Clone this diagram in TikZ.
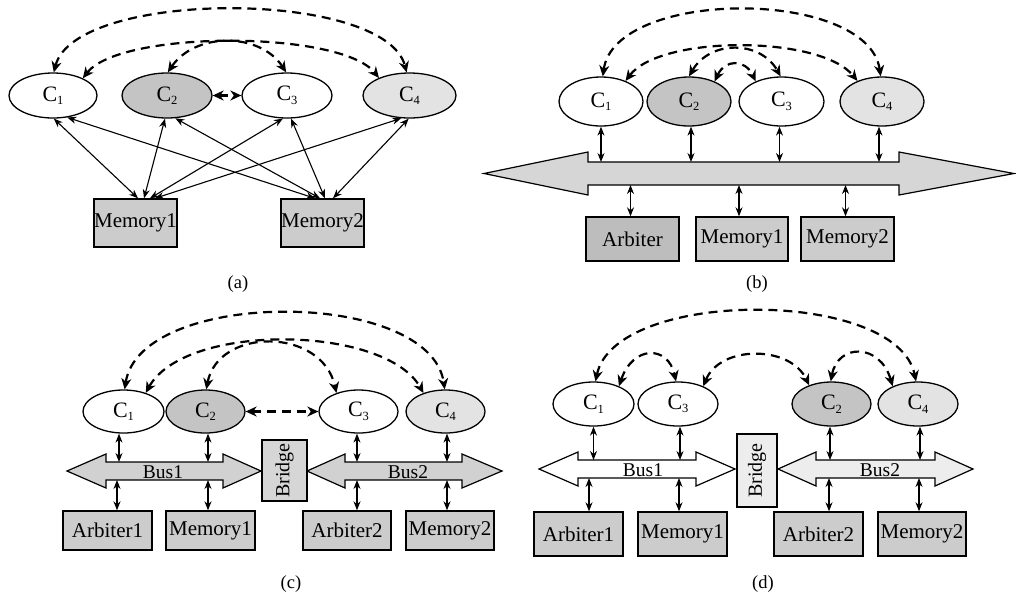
\documentclass[tikz,border=0pt]{standalone}
\usepackage{fontspec}
\setmainfont{Liberation Serif}
\usetikzlibrary{arrows.meta,shapes.geometric}
\newcommand\CC[1]{C\raisebox{-0.35ex}{\fontsize{12.5}{12.5}\selectfont #1}}
\definecolor{gCtwo}{gray}{0.77}
\definecolor{gCfour}{gray}{0.89}
\definecolor{gBox}{gray}{0.80}
\definecolor{gArb}{gray}{0.74}
\definecolor{gBusB}{gray}{0.84}
\definecolor{gBusC}{gray}{0.82}
\definecolor{gBrC}{gray}{0.84}
\definecolor{gBrD}{gray}{0.93}
\definecolor{gBusD}{gray}{0.93}
\tikzset{
  cell/.style={ellipse, draw, line width=1.3pt, inner sep=0pt, fill=white,
    font=\fontsize{22}{24}\selectfont},
  ctwo/.style={cell, fill=gCtwo},
  cfour/.style={cell, fill=gCfour},
  box/.style={rectangle, draw, line width=1.4pt, fill=gBox, inner sep=0pt,
    font=\fontsize{21}{24}\selectfont},
  sarr/.style={{Stealth[length=9pt,width=7pt]}-{Stealth[length=9pt,width=7pt]}, line width=1.1pt},
  darr/.style={{Stealth[length=11pt,width=10pt,inset=3.5pt]}-{Stealth[length=11pt,width=10pt,inset=3.5pt]},
    line width=2.2pt, dash pattern=on 9pt off 6pt},
  busline/.style={draw, line width=1.2pt},
  buslabel/.style={font=\fontsize{19.5}{22}\selectfont, inner sep=0pt},
  captxt/.style={font=\fontsize{18.5}{22}\selectfont},
}
\begin{document}
\begin{tikzpicture}[x=1pt,y=-1pt]
\useasboundingbox[fill=white] (0,0) rectangle (1016,595);

% ================= (a) =================
\node[cell, minimum width=88pt, minimum height=45pt] (a1) at (53,95.5) {\CC1};
\node[ctwo, minimum width=90pt, minimum height=45pt] (a2) at (167,95.5) {\CC2};
\node[cell, minimum width=90pt, minimum height=45pt] (a3) at (287,95.5) {\CC3};
\node[cfour, minimum width=93pt, minimum height=45pt] (a4) at (409.5,95.5) {\CC4};
\node[box, minimum width=83pt, minimum height=48pt] (am1) at (135.5,223) {Memory1};
\node[box, minimum width=83pt, minimum height=48pt] (am2) at (322.5,223) {Memory2};
\node[captxt] (capa) at (238,284) {(a)};

\draw[sarr] (a1.-88) -- ([xshift=2.5pt]am1.north);
\draw[sarr] (a1.-57) -- ([xshift=-7.5pt]am2.north);
\draw[sarr] (a2.-95) -- ([xshift=8.5pt]am1.north);
\draw[sarr] (a2.-70) -- ([xshift=-2.5pt]am2.north);
\draw[sarr] (a3.-100) -- ([xshift=14.5pt]am1.north);
\draw[sarr] (a3.-80) -- ([xshift=2.5pt]am2.north);
\draw[sarr] (a4.-110) -- ([xshift=19.5pt]am1.north);
\draw[sarr] (a4.-92) -- ([xshift=10.5pt]am2.north);

\draw[darr] (a1.88) .. controls (75,-11) and (385,-11) .. (a4.97);
\draw[darr] (a1.30) .. controls (120,30) and (340,30) .. (a4.150);
\draw[darr] (a2.88) .. controls (195,32) and (260,32) .. (a3.92);
\draw[darr] (a2) -- (a3);

% ================= (b) =================
\node[cell, minimum width=84pt, minimum height=49pt] (b1) at (601,101.5) {\CC1};
\node[ctwo, minimum width=84pt, minimum height=49pt] (b2) at (689,101.5) {\CC2};
\node[cell, minimum width=85pt, minimum height=49pt] (b3) at (781.5,101.5) {\CC3};
\node[cfour, minimum width=84pt, minimum height=49pt] (b4) at (882,101.5) {\CC4};
\draw[busline, fill=gBusB] (484,173.5) -- (588,152) -- (588,162) -- (899,162) -- (899,152)
  -- (1014,173.5) -- (899,195) -- (899,185) -- (588,185) -- (588,195) -- cycle;
\coordinate (bT) at (0,162);
\coordinate (bB) at (0,185);
\node[box, fill=gArb, minimum width=93pt, minimum height=44pt] (barb) at (632.5,239) {Arbiter};
\node[box, minimum width=92pt, minimum height=44pt] (bm1) at (742,239) {Memory1};
\node[box, minimum width=93pt, minimum height=44pt] (bm2) at (847.5,239) {Memory2};
\node[captxt] (capb) at (757,284) {(b)};

\draw[sarr] (b1) -- (b1 |- bT);
\draw[sarr] ([xshift=2pt]b2.south) -- ([xshift=2pt]b2.south |- bT);
\draw[sarr] ([xshift=-2pt]b3.south) -- ([xshift=-2pt]b3.south |- bT);
\draw[sarr] ([xshift=-3pt]b4.south) -- ([xshift=-3pt]b4.south |- bT);
\draw[sarr] ([xshift=-2pt]barb.north |- bB) -- ([xshift=-2pt]barb.north);
\draw[sarr] ([xshift=-3pt]bm1.north |- bB) -- ([xshift=-3pt]bm1.north);
\draw[sarr] ([xshift=-2pt]bm2.north |- bB) -- ([xshift=-2pt]bm2.north);

\draw[darr] (b1.86) .. controls (615,-12) and (868,-12) .. (b4.93);
\draw[darr] (b1.40) .. controls (660,35) and (820,35) .. (b4.140);
\draw[darr] (b2.90) .. controls (710,40) and (760,40) .. (b3.92);
\draw[darr] (b2.38) .. controls (725,59) and (745,59) .. (b3.142);

% ================= (c) =================
\node[cell, minimum width=81pt, minimum height=43pt] (c1) at (123.5,411.5) {\CC1};
\node[ctwo, minimum width=79pt, minimum height=43pt] (c2) at (205.5,411.5) {\CC2};
\node[cell, minimum width=79pt, minimum height=43pt] (c3) at (358.5,411.5) {\CC3};
\node[cfour, minimum width=79pt, minimum height=43pt] (c4) at (445.5,411.5) {\CC4};
\draw[busline, fill=gBusC] (67,471) -- (106,454) -- (106,462) -- (223,462) -- (223,454)
  -- (261,471) -- (223,488) -- (223,480) -- (106,480) -- (106,488) -- cycle;
\draw[busline, fill=gBusC] (307,471) -- (345,454) -- (345,462) -- (462,462) -- (462,454)
  -- (502,471) -- (462,488) -- (462,480) -- (345,480) -- (345,488) -- cycle;
\node[buslabel] (cbus1) at (163,472) {Bus1};
\node[buslabel] (cbus2) at (408,472) {Bus2};
\coordinate (cT) at (0,462);
\coordinate (cB) at (0,480);
\node[box, fill=gBrC, minimum width=45pt, minimum height=61pt] (cbr) at (284.5,470.5)
  {\fontsize{20}{22}\selectfont\rotatebox{90}{Bridge}};
\node[box, minimum width=89pt, minimum height=39pt] (carb1) at (107.5,530.5) {Arbiter1};
\node[box, minimum width=89pt, minimum height=39pt] (cm1) at (210.5,530.5) {Memory1};
\node[box, minimum width=88pt, minimum height=39pt] (carb2) at (347,530.5) {Arbiter2};
\node[box, minimum width=88pt, minimum height=39pt] (cm2) at (450,530.5) {Memory2};
\node[captxt] (capc) at (291,584) {(c)};

\draw[sarr] ([xshift=-4.5pt]c1.south) -- ([xshift=-4.5pt]c1.south |- cT);
\draw[sarr] ([xshift=2.5pt]c2.south) -- ([xshift=2.5pt]c2.south |- cT);
\draw[sarr] ([xshift=-1.5pt]c3.south) -- ([xshift=-1.5pt]c3.south |- cT);
\draw[sarr] ([xshift=1.5pt]c4.south) -- ([xshift=1.5pt]c4.south |- cT);
\draw[sarr] ([xshift=-6.5pt]c1.south |- cB) -- ([xshift=-6.5pt]c1.south |- carb1.north);
\draw[sarr] ([xshift=2.5pt]c2.south |- cB) -- ([xshift=2.5pt]c2.south |- cm1.north);
\draw[sarr] ([xshift=-1.5pt]c3.south |- cB) -- ([xshift=-1.5pt]c3.south |- carb2.north);
\draw[sarr] ([xshift=1.5pt]c4.south |- cB) -- ([xshift=1.5pt]c4.south |- cm2.north);

\draw[darr] (c1.87) .. controls (140,288) and (430,288) .. (c4.92);
\draw[darr] (c1.40) .. controls (185,322) and (385,325) .. (c4.140);
\draw[darr] (c2.88) .. controls (218,327) and (322,327) .. (c3.140);
\draw[darr] (c2) -- (c3);

% ================= (d) =================
\node[cell, minimum width=81pt, minimum height=44pt] (d1) at (593.5,404) {\CC1};
\node[cell, minimum width=80pt, minimum height=44pt] (d3) at (678,404) {\CC3};
\node[ctwo, minimum width=79pt, minimum height=44pt] (d2) at (831.5,404) {\CC2};
\node[cfour, minimum width=80pt, minimum height=44pt] (d4) at (918,404) {\CC4};
\draw[busline, fill=white] (539,469) -- (578,452) -- (578,460) -- (696,460) -- (696,452)
  -- (735,469) -- (696,486) -- (696,478) -- (578,478) -- (578,486) -- cycle;
\draw[busline, fill=gBusD] (778,469) -- (816,452) -- (816,460) -- (935,460) -- (935,452)
  -- (973,469) -- (935,486) -- (935,478) -- (816,478) -- (816,486) -- cycle;
\node[buslabel] (dbus1) at (643,470) {Bus1};
\node[buslabel] (dbus2) at (880,470) {Bus2};
\coordinate (dT) at (0,460);
\coordinate (dB) at (0,478);
\node[box, fill=gBrD, minimum width=40pt, minimum height=73pt] (dbr) at (757,470.5)
  {\fontsize{20}{22}\selectfont\rotatebox{90}{Bridge}};
\node[box, minimum width=89pt, minimum height=44pt] (darb1) at (578.5,534) {Arbiter1};
\node[box, minimum width=89pt, minimum height=44pt] (dm1) at (682.5,534) {Memory1};
\node[box, minimum width=89pt, minimum height=44pt] (darb2) at (818.5,534) {Arbiter2};
\node[box, minimum width=88pt, minimum height=44pt] (dm2) at (922,534) {Memory2};
\node[captxt] (capd) at (763,584) {(d)};

\draw[sarr] (d1) -- (d1 |- dT);
\draw[sarr] ([xshift=2pt]d3.south) -- ([xshift=2pt]d3.south |- dT);
\draw[sarr] ([xshift=-1.5pt]d2.south) -- ([xshift=-1.5pt]d2.south |- dT);
\draw[sarr] ([xshift=2pt]d4.south) -- ([xshift=2pt]d4.south |- dT);
\draw[sarr] ([xshift=-4.5pt]d1.south |- dB) -- ([xshift=-4.5pt]d1.south |- darb1.north);
\draw[sarr] ([xshift=1pt]d3.south |- dB) -- ([xshift=1pt]d3.south |- dm1.north);
\draw[sarr] ([xshift=-2.5pt]d2.south |- dB) -- ([xshift=-2.5pt]d2.south |- darb2.north);
\draw[sarr] ([xshift=1pt]d4.south |- dB) -- ([xshift=1pt]d4.south |- dm2.north);

\draw[darr] (d1.85) .. controls (615,288) and (897,288) .. (d4.95);
\draw[darr] (d1.35) .. controls (633,345) and (668,345) .. (d3.95);
\draw[darr] (d3.35) .. controls (720,345) and (790,345) .. (d2.140);
\draw[darr] (d2.92) .. controls (838,343) and (880,343) .. (d4.145);
\end{tikzpicture}
\end{document}
